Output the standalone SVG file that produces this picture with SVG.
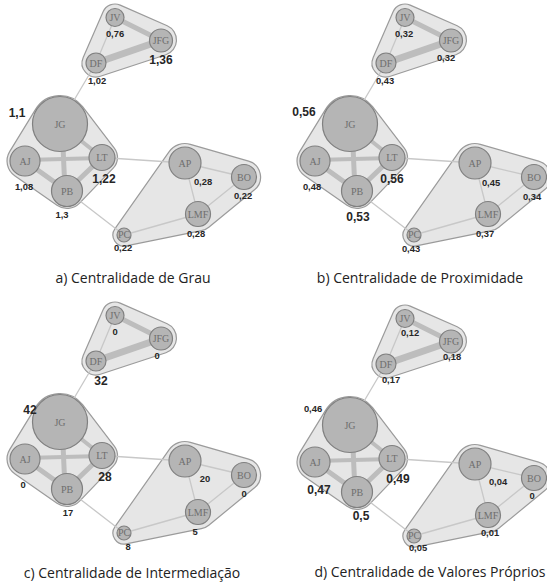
<svg xmlns="http://www.w3.org/2000/svg" width="547" height="583" viewBox="0 0 547 583">
<style>
.hull{fill:#e6e6e6;stroke:#9b9b9b;stroke-width:1.2}
.e{stroke:#bdbdbd;stroke-linecap:round;fill:none}
.t{stroke:#c8c8c8;stroke-width:1.3}
.n circle{fill:#b5b5b5;stroke:#808080;stroke-width:1.2}
.lb{font-family:"Liberation Serif",serif;font-size:10px;fill:#6e6e6e;text-anchor:middle}
.v{font-family:"Liberation Sans",Arial,sans-serif;font-weight:bold;fill:#262626;text-anchor:middle;font-size:9.4px}
.L{font-size:12px}
.cap{font-family:"Open Sans",sans-serif;font-size:14px;fill:#222;text-anchor:middle}
</style>
<defs>
<path id="h1" d="M120.2,5.1 L167.2,25.8 A15.5,15.5 0 0 1 165.9,54.7 L100.4,76.3 A14,14 0 0 1 83.2,57.4 L103.1,11.8 A13,13 0 0 1 120.2,5.1 Z"/>
<path id="h2" d="M82.6,106.7 L114.3,148.1 A15.5,15.5 0 0 1 113.2,168.2 L79.6,203.1 A17.5,17.5 0 0 1 57,205.3 L14.7,175.7 A18,18 0 0 1 9.65,151.6 L35.7,109.1 A28.5,28.5 0 0 1 82.6,106.7 Z"/>
<path id="h3" d="M190.4,144.3 L248.6,161.2 A16.5,16.5 0 0 1 254.5,189.8 L208.8,227.2 A17,17 0 0 1 201.4,230.7 L126.2,245.8 A11,11 0 0 1 115,228.7 L169,151.8 A19.5,19.5 0 0 1 190.4,144.3 Z"/>
<g id="edges">
<line class="e" stroke-width="5" x1="115" y1="17.5" x2="161" y2="40.5"/>
<line class="e" stroke-width="7" x1="96" y1="63" x2="161" y2="40.5"/>
<line class="e t" x1="115" y1="17.5" x2="96" y2="63"/>
<line class="e t" x1="96" y1="63" x2="60" y2="124"/>
<line class="e" stroke-width="4" x1="60" y1="124" x2="102" y2="157.5"/>
<line class="e" stroke-width="5" x1="62" y1="124" x2="65" y2="191"/>
<line class="e" stroke-width="4" x1="25" y1="160" x2="102" y2="158"/>
<line class="e" stroke-width="5" x1="25" y1="161" x2="67" y2="191"/>
<line class="e" stroke-width="5" x1="102" y1="157.5" x2="67" y2="191"/>
<line class="e t" x1="102" y1="157.5" x2="185" y2="163"/>
<line class="e t" x1="67" y1="191" x2="124" y2="235"/>
<line class="e t" x1="185" y1="163" x2="244" y2="177"/>
<line class="e t" x1="185" y1="163" x2="198" y2="214"/>
<line class="e t" x1="244" y1="177" x2="198" y2="214"/>
<line class="e t" x1="198" y1="214" x2="124" y2="235"/>
</g>
</defs>

<!-- Panel a -->
<g id="panel-a">
<g id="a-hulls"><use href="#h1" class="hull"/><use href="#h2" class="hull"/><use href="#h3" class="hull"/></g>
<g id="a-connectors"><use href="#edges"/></g>
<g id="a-JV" class="n"><circle cx="115" cy="17.5" r="9"/><text class="lb" x="115" y="21">JV</text><text class="v" x="115" y="37.4">0,76</text></g>
<g id="a-JFG" class="n"><circle cx="161" cy="40.5" r="11.5"/><text class="lb" x="161" y="44" font-size="9.5">JFG</text><text class="v L" x="161" y="64.3">1,36</text></g>
<g id="a-DF" class="n"><circle cx="96" cy="63" r="10"/><text class="lb" x="96" y="66.5">DF</text><text class="v" x="97" y="84.4">1,02</text></g>
<g id="a-JG" class="n"><circle cx="60" cy="124" r="27.5"/><text class="lb" x="60" y="127.5">JG</text><text class="v L" x="17" y="117.3">1,1</text></g>
<g id="a-AJ" class="n"><circle cx="25" cy="161" r="15"/><text class="lb" x="25" y="164.5">AJ</text><text class="v" x="24" y="190.4">1,08</text></g>
<g id="a-LT" class="n"><circle cx="102" cy="157.5" r="13"/><text class="lb" x="102" y="161">LT</text><text class="v L" x="104" y="183.3">1,22</text></g>
<g id="a-PB" class="n"><circle cx="67" cy="191" r="15.5"/><text class="lb" x="67" y="194.5">PB</text><text class="v" x="62" y="218.4">1,3</text></g>
<g id="a-AP" class="n"><circle cx="185" cy="163" r="16"/><text class="lb" x="185" y="166.5">AP</text><text class="v" x="203" y="185.4">0,28</text></g>
<g id="a-BO" class="n"><circle cx="244" cy="177" r="12.5"/><text class="lb" x="244" y="180.5">BO</text><text class="v" x="243" y="199.4">0,22</text></g>
<g id="a-LMF" class="n"><circle cx="198" cy="214" r="12.5"/><text class="lb" x="198" y="217.5" font-size="9.5">LMF</text><text class="v" x="196" y="237.4">0,28</text></g>
<g id="a-PC" class="n"><circle cx="124" cy="235" r="7"/><text class="lb" x="124" y="237.5" font-size="6.5">PC</text><text class="v" x="123" y="251.4">0,22</text></g>
<text class="cap" x="133" y="283">a) Centralidade de Grau</text>
</g>

<!-- Panel b -->
<g id="panel-b" transform="translate(290,0)">
<g id="b-hulls"><use href="#h1" class="hull"/><use href="#h2" class="hull"/><use href="#h3" class="hull"/></g>
<g id="b-connectors"><use href="#edges"/></g>
<g id="b-JV" class="n"><circle cx="115" cy="17.5" r="9"/><text class="lb" x="115" y="21">JV</text><text class="v" x="114" y="37.4">0,32</text></g>
<g id="b-JFG" class="n"><circle cx="161" cy="40.5" r="11.5"/><text class="lb" x="161" y="44" font-size="9.5">JFG</text><text class="v" x="156" y="61.4">0,32</text></g>
<g id="b-DF" class="n"><circle cx="96" cy="63" r="10"/><text class="lb" x="96" y="66.5">DF</text><text class="v" x="95" y="84.4">0,43</text></g>
<g id="b-JG" class="n"><circle cx="60" cy="124" r="27.5"/><text class="lb" x="60" y="127.5">JG</text><text class="v L" x="14" y="116.3">0,56</text></g>
<g id="b-AJ" class="n"><circle cx="25" cy="161" r="15"/><text class="lb" x="25" y="164.5">AJ</text><text class="v" x="22" y="190.4">0,48</text></g>
<g id="b-LT" class="n"><circle cx="102" cy="157.5" r="13"/><text class="lb" x="102" y="161">LT</text><text class="v L" x="102" y="183.3">0,56</text></g>
<g id="b-PB" class="n"><circle cx="67" cy="191" r="15.5"/><text class="lb" x="67" y="194.5">PB</text><text class="v L" x="68" y="221.3">0,53</text></g>
<g id="b-AP" class="n"><circle cx="185" cy="163" r="16"/><text class="lb" x="185" y="166.5">AP</text><text class="v" x="201" y="186.4">0,45</text></g>
<g id="b-BO" class="n"><circle cx="244" cy="177" r="12.5"/><text class="lb" x="244" y="180.5">BO</text><text class="v" x="242" y="200.4">0,34</text></g>
<g id="b-LMF" class="n"><circle cx="198" cy="214" r="12.5"/><text class="lb" x="198" y="217.5" font-size="9.5">LMF</text><text class="v" x="195" y="237.4">0,37</text></g>
<g id="b-PC" class="n"><circle cx="124" cy="235" r="7"/><text class="lb" x="124" y="237.5" font-size="6.5">PC</text><text class="v" x="121" y="252.4">0,43</text></g>
<text class="cap" x="130" y="283">b) Centralidade de Proximidade</text>
</g>

<!-- Panel c -->
<g id="panel-c" transform="translate(0,298)">
<g id="c-hulls"><use href="#h1" class="hull"/><use href="#h2" class="hull"/><use href="#h3" class="hull"/></g>
<g id="c-connectors"><use href="#edges"/></g>
<g id="c-JV" class="n"><circle cx="115" cy="17.5" r="9"/><text class="lb" x="115" y="21">JV</text><text class="v" x="115" y="37.4">0</text></g>
<g id="c-JFG" class="n"><circle cx="161" cy="40.5" r="11.5"/><text class="lb" x="161" y="44" font-size="9.5">JFG</text><text class="v" x="157" y="61.4">0</text></g>
<g id="c-DF" class="n"><circle cx="96" cy="63" r="10"/><text class="lb" x="96" y="66.5">DF</text><text class="v L" x="101" y="87.3">32</text></g>
<g id="c-JG" class="n"><circle cx="60" cy="124" r="27.5"/><text class="lb" x="60" y="127.5">JG</text><text class="v L" x="30" y="116.3">42</text></g>
<g id="c-AJ" class="n"><circle cx="25" cy="161" r="15"/><text class="lb" x="25" y="164.5">AJ</text><text class="v" x="23" y="190.4">0</text></g>
<g id="c-LT" class="n"><circle cx="102" cy="157.5" r="13"/><text class="lb" x="102" y="161">LT</text><text class="v L" x="105" y="183.3">28</text></g>
<g id="c-PB" class="n"><circle cx="67" cy="191" r="15.5"/><text class="lb" x="67" y="194.5">PB</text><text class="v" x="68" y="218.4">17</text></g>
<g id="c-AP" class="n"><circle cx="185" cy="163" r="16"/><text class="lb" x="185" y="166.5">AP</text><text class="v" x="205" y="184.4">20</text></g>
<g id="c-BO" class="n"><circle cx="244" cy="177" r="12.5"/><text class="lb" x="244" y="180.5">BO</text><text class="v" x="244" y="199.4">0</text></g>
<g id="c-LMF" class="n"><circle cx="198" cy="214" r="12.5"/><text class="lb" x="198" y="217.5" font-size="9.5">LMF</text><text class="v" x="195" y="237.4">5</text></g>
<g id="c-PC" class="n"><circle cx="124" cy="235" r="7"/><text class="lb" x="124" y="237.5" font-size="6.5">PC</text><text class="v" x="128" y="252.4">8</text></g>
<text class="cap" x="132" y="280">c) Centralidade de Intermediação</text>
</g>

<!-- Panel d -->
<g id="panel-d" transform="translate(290,301)">
<g id="d-hulls"><use href="#h1" class="hull"/><use href="#h2" class="hull"/><use href="#h3" class="hull"/></g>
<g id="d-connectors"><use href="#edges"/></g>
<g id="d-JV" class="n"><circle cx="115" cy="17.5" r="9"/><text class="lb" x="115" y="21">JV</text><text class="v" x="120" y="35.4">0,12</text></g>
<g id="d-JFG" class="n"><circle cx="161" cy="40.5" r="11.5"/><text class="lb" x="161" y="44" font-size="9.5">JFG</text><text class="v" x="162" y="59.4">0,18</text></g>
<g id="d-DF" class="n"><circle cx="96" cy="63" r="10"/><text class="lb" x="96" y="66.5">DF</text><text class="v" x="101" y="82.4">0,17</text></g>
<g id="d-JG" class="n"><circle cx="60" cy="124" r="27.5"/><text class="lb" x="60" y="127.5">JG</text><text class="v" x="23" y="111.4">0,46</text></g>
<g id="d-AJ" class="n"><circle cx="25" cy="161" r="15"/><text class="lb" x="25" y="164.5">AJ</text><text class="v L" x="29" y="193.3">0,47</text></g>
<g id="d-LT" class="n"><circle cx="102" cy="157.5" r="13"/><text class="lb" x="102" y="161">LT</text><text class="v L" x="108" y="182.3">0,49</text></g>
<g id="d-PB" class="n"><circle cx="67" cy="191" r="15.5"/><text class="lb" x="67" y="194.5">PB</text><text class="v L" x="71" y="219.3">0,5</text></g>
<g id="d-AP" class="n"><circle cx="185" cy="163" r="16"/><text class="lb" x="185" y="166.5">AP</text><text class="v" x="208" y="184.4">0,04</text></g>
<g id="d-BO" class="n"><circle cx="244" cy="177" r="12.5"/><text class="lb" x="244" y="180.5">BO</text><text class="v" x="242" y="198.4">0</text></g>
<g id="d-LMF" class="n"><circle cx="198" cy="214" r="12.5"/><text class="lb" x="198" y="217.5" font-size="9.5">LMF</text><text class="v" x="200" y="235.4">0,01</text></g>
<g id="d-PC" class="n"><circle cx="124" cy="235" r="7"/><text class="lb" x="124" y="237.5" font-size="6.5">PC</text><text class="v" x="128" y="250.4">0,05</text></g>
<text class="cap" x="140" y="276">d) Centralidade de Valores Próprios</text>
</g>
</svg>
